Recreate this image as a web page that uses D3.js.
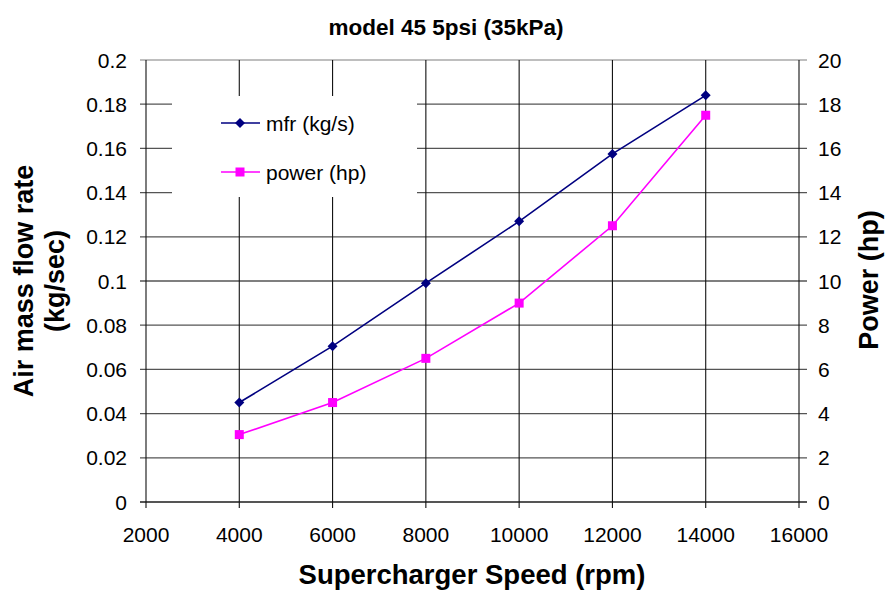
<!DOCTYPE html>
<html><head><meta charset="utf-8">
<script src="https://cdn.jsdelivr.net/npm/d3@7"></script>
<style>body{margin:0;background:#fff}svg{display:block}text{font-family:"Liberation Sans",Arial,sans-serif}</style>
</head><body>
<script>
const speeds = [4000, 6000, 8000, 10000, 12000, 14000];
const mfr = [0.045, 0.0705, 0.099, 0.127, 0.1575, 0.184];
const power = [3.05, 4.5, 6.5, 9.0, 12.5, 17.5];
const xTicks = [2000, 4000, 6000, 8000, 10000, 12000, 14000, 16000];
const yLeftTicks = [0, 0.02, 0.04, 0.06, 0.08, 0.1, 0.12, 0.14, 0.16, 0.18, 0.2];
const yRightTicks = [0, 2, 4, 6, 8, 10, 12, 14, 16, 18, 20];
const titleText = "model 45 5psi (35kPa)";
const xTitle = "Supercharger Speed (rpm)";
const yLeftTitle = ["Air mass flow rate", "(kg/sec)"];
const yRightTitle = "Power (hp)";
const seriesNames = ["mfr (kg/s)", "power (hp)"];

const W = 885, H = 590;
const L = 146, R = 799, T = 60, B = 502;
const svg = d3.select("body").append("svg").attr("width", W).attr("height", H);
const x = d3.scaleLinear().domain([2000, 16000]).range([L, R]);
const yl = d3.scaleLinear().domain([0, 0.2]).range([B, T]);
const yr = d3.scaleLinear().domain([0, 20]).range([B, T]);

// horizontal gridlines
svg.append("g").selectAll("line").data(yLeftTicks).join("line")
  .attr("x1", L - 6).attr("x2", R + 8)
  .attr("y1", d => yl(d)).attr("y2", d => yl(d))
  .attr("stroke", (d, i) => i === yLeftTicks.length - 1 ? "#a8a8a8" : "#555")
  .attr("stroke-width", (d, i) => i === 0 ? 2 : 1.3);
// vertical gridlines
svg.append("g").selectAll("line").data(xTicks).join("line")
  .attr("x1", d => x(d)).attr("x2", d => x(d))
  .attr("y1", T).attr("y2", B + 6)
  .attr("stroke", "#111").attr("stroke-width", 1.1);

// legend box
svg.append("rect").attr("x", 172).attr("y", 96).attr("width", 245).attr("height", 101).attr("fill", "#fff");

// tick labels
svg.append("g").selectAll("text").data(xTicks).join("text")
  .attr("x", d => x(d)).attr("y", 542).attr("text-anchor", "middle")
  .attr("font-size", 21).text(d => d);
svg.append("g").selectAll("text").data(yLeftTicks).join("text")
  .attr("x", 127).attr("y", d => yl(d)).attr("dy", "0.36em").attr("text-anchor", "end")
  .attr("font-size", 21).text(d => d3.format("")(+d.toFixed(2)));
svg.append("g").selectAll("text").data(yRightTicks).join("text")
  .attr("x", 818).attr("y", d => yr(d)).attr("dy", "0.36em").attr("text-anchor", "start")
  .attr("font-size", 21).text(d => d);

// titles
svg.append("text").attr("x", 446).attr("y", 35).attr("text-anchor", "middle")
  .attr("font-size", 22.5).attr("font-weight", "bold").text(titleText);
svg.append("text").attr("x", 472).attr("y", 584).attr("text-anchor", "middle")
  .attr("font-size", 27.5).attr("font-weight", "bold").text(xTitle);
yLeftTitle.forEach((t, i) => {
  svg.append("text").attr("transform", `translate(${33 + i * 31},281) rotate(-90)`)
    .attr("text-anchor", "middle").attr("font-size", 27).attr("font-weight", "bold").text(t);
});
svg.append("text").attr("transform", `translate(878,280) rotate(-90)`)
  .attr("text-anchor", "middle").attr("font-size", 27).attr("font-weight", "bold").text(yRightTitle);

// series
const c1 = "#000080", c2 = "#ff00ff";
const d1 = speeds.map((s, i) => [s, mfr[i]]);
const d2 = speeds.map((s, i) => [s, power[i]]);
svg.append("path").datum(d1).attr("fill", "none").attr("stroke", c1).attr("stroke-width", 1.6)
  .attr("d", d3.line().x(d => x(d[0])).y(d => yl(d[1])));
svg.append("path").datum(d2).attr("fill", "none").attr("stroke", c2).attr("stroke-width", 1.6)
  .attr("d", d3.line().x(d => x(d[0])).y(d => yr(d[1])));
const diamond = (cx, cy, r) => `M${cx},${cy - r}L${cx + r},${cy}L${cx},${cy + r}L${cx - r},${cy}Z`;
svg.append("g").selectAll("path").data(d1).join("path")
  .attr("d", d => diamond(x(d[0]), yl(d[1]), 5)).attr("fill", c1);
svg.append("g").selectAll("rect").data(d2).join("rect")
  .attr("x", d => x(d[0]) - 4.5).attr("y", d => yr(d[1]) - 4.5)
  .attr("width", 9).attr("height", 9).attr("fill", c2);

// legend
const leg = [{n: seriesNames[0], c: c1, y: 123, m: "d"}, {n: seriesNames[1], c: c2, y: 172, m: "s"}];
leg.forEach(l => {
  svg.append("line").attr("x1", 221).attr("x2", 260).attr("y1", l.y).attr("y2", l.y)
    .attr("stroke", l.c).attr("stroke-width", 1.6);
  if (l.m === "d") svg.append("path").attr("d", diamond(240, l.y, 5)).attr("fill", l.c);
  else svg.append("rect").attr("x", 235.5).attr("y", l.y - 4.5).attr("width", 9).attr("height", 9).attr("fill", l.c);
  svg.append("text").attr("x", 266).attr("y", l.y).attr("dy", "0.36em").attr("font-size", 21).text(l.n);
});
</script>
</body></html>
